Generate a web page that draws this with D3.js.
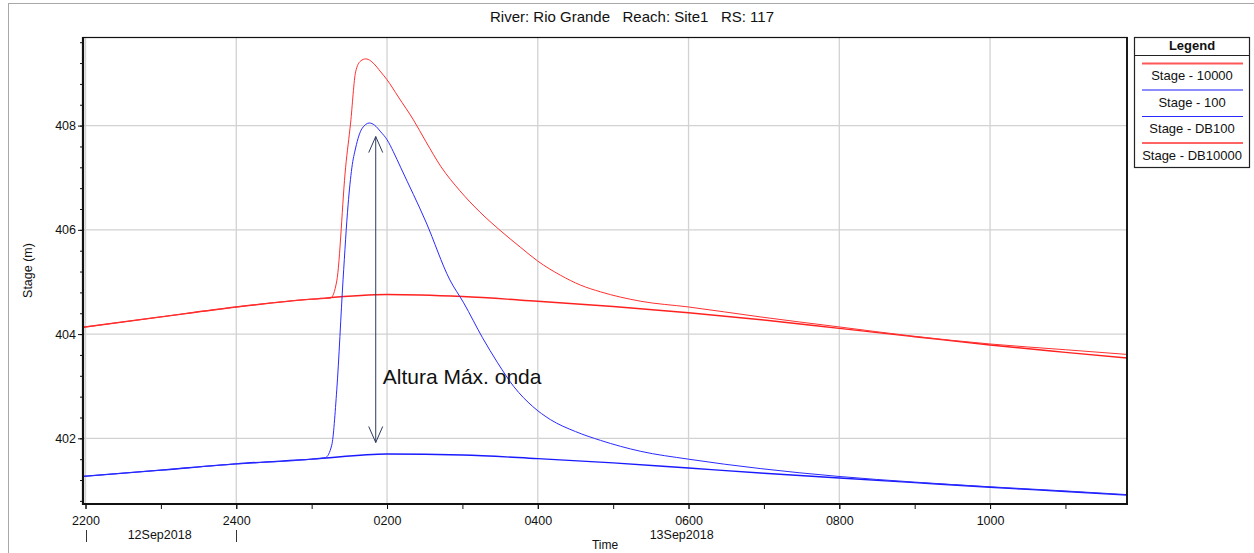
<!DOCTYPE html>
<html><head><meta charset="utf-8">
<script src="https://cdn.jsdelivr.net/npm/d3@7"></script>
<style>
body{margin:0;background:#fff;}
text{font-family:"Liberation Sans",Arial,Helvetica,sans-serif;}
</style>
</head><body>
<svg id="c" width="1254" height="553"></svg>
<script>
// ---------- data ----------
const chartTitle = "River: Rio Grande   Reach: Site1   RS: 117";
const xDomain = ["12Sep2018 2158", "13Sep2018 1149"];
const yDomain = [400.74, 409.70];
const yTicks = [402, 404, 406, 408];
const dayLabels = ["12Sep2018", "13Sep2018"];
const dayStarts = ["12Sep2018 0000", "13Sep2018 0000"];

const stage10000Time = ["12Sep2018 2158","12Sep2018 2300","13Sep2018 0000","13Sep2018 0100","13Sep2018 0200","13Sep2018 0300","13Sep2018 0400","13Sep2018 0500","13Sep2018 0600","13Sep2018 0700","13Sep2018 0800","13Sep2018 0900","13Sep2018 1000","13Sep2018 1100","13Sep2018 1149"];
const stage10000 = [404.13,404.33,404.52,404.67,404.76,404.72,404.63,404.53,404.41,404.27,404.11,403.95,403.79,403.65,403.54];

const stage100Time = ["12Sep2018 2158","12Sep2018 2300","13Sep2018 0000","13Sep2018 0100","13Sep2018 0200","13Sep2018 0300","13Sep2018 0400","13Sep2018 0500","13Sep2018 0600","13Sep2018 0700","13Sep2018 0800","13Sep2018 0900","13Sep2018 1000","13Sep2018 1100","13Sep2018 1149"];
const stage100 = [401.27,401.39,401.51,401.60,401.70,401.68,401.61,401.53,401.43,401.33,401.24,401.15,401.06,400.98,400.91];

const stageDB100Time = ["12Sep2018 2158","12Sep2018 2300","13Sep2018 0000","13Sep2018 0100","13Sep2018 0111","13Sep2018 0116","13Sep2018 0120","13Sep2018 0125","13Sep2018 0129","13Sep2018 0132","13Sep2018 0135","13Sep2018 0140","13Sep2018 0146","13Sep2018 0150","13Sep2018 0155","13Sep2018 0200","13Sep2018 0205","13Sep2018 0211","13Sep2018 0231","13Sep2018 0250","13Sep2018 0301","13Sep2018 0316","13Sep2018 0328","13Sep2018 0341","13Sep2018 0356","13Sep2018 0410","13Sep2018 0430","13Sep2018 0450","13Sep2018 0522","13Sep2018 0600","13Sep2018 0657","13Sep2018 0759","13Sep2018 0900","13Sep2018 1000","13Sep2018 1100","13Sep2018 1149"];
const stageDB100 = [401.27,401.39,401.51,401.60,401.63,401.87,402.93,405.04,406.48,407.19,407.57,407.94,408.05,408.01,407.88,407.73,407.50,407.19,406.15,405.04,404.60,403.93,403.45,402.99,402.61,402.36,402.13,401.96,401.75,401.60,401.42,401.27,401.16,401.07,400.99,400.92];

const stageDB10000Time = ["12Sep2018 2158","12Sep2018 2300","13Sep2018 0000","13Sep2018 0100","13Sep2018 0115","13Sep2018 0120","13Sep2018 0127","13Sep2018 0131","13Sep2018 0135","13Sep2018 0139","13Sep2018 0143","13Sep2018 0145","13Sep2018 0149","13Sep2018 0155","13Sep2018 0200","13Sep2018 0209","13Sep2018 0221","13Sep2018 0231","13Sep2018 0243","13Sep2018 0258","13Sep2018 0314","13Sep2018 0330","13Sep2018 0346","13Sep2018 0400","13Sep2018 0418","13Sep2018 0434","13Sep2018 0450","13Sep2018 0522","13Sep2018 0600","13Sep2018 0657","13Sep2018 0759","13Sep2018 0859","13Sep2018 1000","13Sep2018 1100","13Sep2018 1149"];
const stageDB10000 = [404.13,404.33,404.52,404.67,404.69,405.02,407.19,408.05,409.03,409.24,409.28,409.27,409.20,409.03,408.88,408.55,408.11,407.69,407.21,406.75,406.34,405.99,405.67,405.40,405.13,404.94,404.81,404.63,404.52,404.33,404.14,403.96,403.81,403.70,403.61];

const seriesNames = ["Stage - 10000", "Stage - 100", "Stage - DB100", "Stage - DB10000"];
const seriesColors = ["#ff2020", "#1a1aff", "#2a2aff", "#ff3030"];

const arrowTime = "13Sep2018 0151";
const arrowValues = [401.92, 407.79];
const annotationText = "Altura Máx. onda";
const annotationValue = 403.04;

// ---------- drawing ----------
const parse = d3.timeParse("%d%b%Y %H%M");
const svg = d3.select("#c");
const L = 83, R = 1127, T = 37, B = 504;

const x = d3.scaleTime().domain(xDomain.map(parse)).range([L, R]);
const y = d3.scaleLinear().domain(yDomain).range([B, T]);

// outer window frame
svg.append("line").attr("x1", 8.5).attr("x2", 8.5).attr("y1", 3).attr("y2", 553).attr("stroke", "#a8a8a8");
svg.append("line").attr("x1", 8).attr("x2", 1254).attr("y1", 3.5).attr("y2", 3.5).attr("stroke", "#a8a8a8");

// title
svg.append("text").attr("x", 632).attr("y", 22).attr("text-anchor", "middle")
  .attr("font-size", 15).attr("xml:space", "preserve").style("white-space", "pre")
  .attr("fill", "#111").text(chartTitle);

// grid
const xMajor = x.ticks(d3.timeHour.every(2));
const xMinor = x.ticks(d3.timeHour.every(1));
const g = svg.append("g");
g.selectAll(".vg").data(xMajor).join("line")
  .attr("x1", d => x(d)).attr("x2", d => x(d)).attr("y1", T).attr("y2", B)
  .attr("stroke", "#d2d2d2").attr("stroke-width", 1.3);
g.selectAll(".hg").data(yTicks).join("line")
  .attr("x1", L).attr("x2", R).attr("y1", d => y(d)).attr("y2", d => y(d))
  .attr("stroke", "#d2d2d2").attr("stroke-width", 1.3);

// series
svg.append("defs").append("clipPath").attr("id", "clip")
  .append("rect").attr("x", L).attr("y", T).attr("width", R - L).attr("height", B - T);
const line = d3.line().x(d => x(d[0])).y(d => y(d[1])).curve(d3.curveMonotoneX);
const series = [
  [stage10000Time, stage10000, 1.4],
  [stage100Time, stage100, 1.4],
  [stageDB100Time, stageDB100, 1.0],
  [stageDB10000Time, stageDB10000, 1.0]
];
const lg = svg.append("g").attr("clip-path", "url(#clip)");
series.forEach((s, i) => {
  const pts = s[0].map((t, j) => [parse(t), s[1][j]]);
  lg.append("path").attr("d", line(pts)).attr("fill", "none")
    .attr("stroke", seriesColors[i]).attr("stroke-width", s[2]);
});

// axes
const fmtX = d => d.getHours() === 0 ? "2400" : d3.timeFormat("%H%M")(d);
svg.append("g").attr("transform", `translate(0,${B})`)
  .call(d3.axisBottom(x).tickValues(xMajor).tickSize(5).tickPadding(7).tickFormat(fmtX));
svg.append("g").attr("transform", `translate(0,${B})`)
  .call(d3.axisBottom(x).tickValues(xMinor).tickSize(5).tickFormat(""));
svg.append("g").attr("transform", `translate(${L},0)`)
  .call(d3.axisLeft(y).tickValues(yTicks).tickSize(5).tickPadding(2).tickFormat(d3.format("d")));
const yMinorTicks = d3.range(Math.ceil(yDomain[0] / 0.4) * 0.4, yDomain[1], 0.4);
svg.append("g").attr("transform", `translate(${L},0)`)
  .call(d3.axisLeft(y).tickValues(yMinorTicks).tickSize(3).tickFormat(""));
svg.selectAll(".domain").remove();
svg.selectAll(".tick line").attr("stroke", "#111");
svg.selectAll(".tick text").attr("font-size", 12.5).attr("fill", "#111")
  .attr("font-family", '"Liberation Sans",Arial,sans-serif');

// frame
svg.append("rect").attr("x", L).attr("y", T + 0.5).attr("width", R - L).attr("height", B - T - 0.5)
  .attr("fill", "none").attr("stroke", "#111").attr("stroke-width", 1.2);
svg.append("line").attr("x1", L).attr("x2", L).attr("y1", T).attr("y2", B + 1).attr("stroke", "#111").attr("stroke-width", 2.2);
svg.append("line").attr("x1", L - 1).attr("x2", R + 1).attr("y1", B).attr("y2", B).attr("stroke", "#111").attr("stroke-width", 2.2);
svg.append("line").attr("x1", R).attr("x2", R).attr("y1", T).attr("y2", B).attr("stroke", "#111").attr("stroke-width", 1.8);

// day labels
const x0 = x.domain()[0], x1 = x.domain()[1];
dayStarts.forEach((ds, i) => {
  const s = parse(ds);
  const e = d3.timeDay.offset(s, 1);
  const a = s < x0 ? x0 : s, b = e > x1 ? x1 : e;
  svg.append("text").attr("x", (x(a) + x(b)) / 2).attr("y", 539).attr("text-anchor", "middle")
    .attr("font-size", 12.5).attr("fill", "#111").text(dayLabels[i]);
});
[xMajor[0], parse(dayStarts[1])].forEach(d => {
  svg.append("line").attr("x1", Math.round(x(d)) + 0.5).attr("x2", Math.round(x(d)) + 0.5)
    .attr("y1", 530).attr("y2", 542).attr("stroke", "#333").attr("stroke-width", 1);
});

// axis titles
svg.append("text").attr("x", (L + R) / 2).attr("y", 549).attr("text-anchor", "middle")
  .attr("font-size", 12).attr("fill", "#111").text("Time");
svg.append("text").attr("transform", `translate(32,${(T + B) / 2}) rotate(-90)`).attr("text-anchor", "middle")
  .attr("font-size", 12.5).attr("fill", "#111").text("Stage (m)");

// annotation
const ax = x(parse(arrowTime));
const ay1 = y(arrowValues[0]), ay2 = y(arrowValues[1]);
const ac = "#2d3b5c";
svg.append("line").attr("x1", ax).attr("x2", ax).attr("y1", ay1).attr("y2", ay2).attr("stroke", ac).attr("stroke-width", 1);
svg.append("path").attr("d", `M${ax - 7},${ay2 + 16}L${ax},${ay2}L${ax + 7},${ay2 + 16}`).attr("fill", "none").attr("stroke", ac);
svg.append("path").attr("d", `M${ax - 7},${ay1 - 16}L${ax},${ay1}L${ax + 7},${ay1 - 16}`).attr("fill", "none").attr("stroke", ac);
svg.append("text").attr("x", ax + 7).attr("y", y(annotationValue)).attr("font-size", 21)
  .attr("fill", "#111").text(annotationText);

// legend
const lx = 1134, lw = 115, ly = 37, lh = 130;
const leg = svg.append("g");
leg.append("rect").attr("x", lx + 0.5).attr("y", ly + 0.5).attr("width", lw).attr("height", lh)
  .attr("fill", "#fff").attr("stroke", "#222").attr("stroke-width", 1.2);
leg.append("text").attr("x", lx + lw / 2 + 0.5).attr("y", 50).attr("text-anchor", "middle")
  .attr("font-size", 13).attr("font-weight", "bold").attr("fill", "#111").text("Legend");
leg.append("line").attr("x1", lx).attr("x2", lx + lw).attr("y1", 55.5).attr("y2", 55.5).attr("stroke", "#222");
seriesNames.forEach((n, i) => {
  const yy = 63.5 + i * 26.5;
  leg.append("line").attr("x1", 1142).attr("x2", 1243).attr("y1", yy).attr("y2", yy)
    .attr("stroke", seriesColors[i]).attr("stroke-width", i % 3 === 0 ? 1.8 : 1.2)
    .attr("stroke-opacity", i % 3 === 0 ? 0.75 : 1);
  leg.append("text").attr("x", lx + lw / 2 + 0.5).attr("y", yy + 16.5).attr("text-anchor", "middle")
    .attr("font-size", 13).attr("fill", "#111").text(n);
});
</script>
</body></html>
